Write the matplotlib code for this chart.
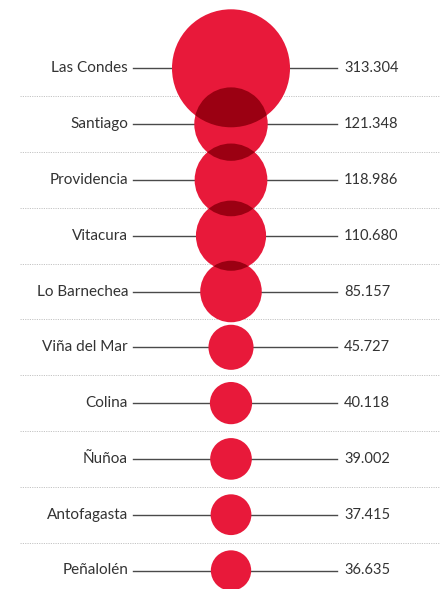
import numpy as np
import matplotlib
matplotlib.use("Agg")
import matplotlib.pyplot as plt
from matplotlib.patches import Circle

comunas = ["Las Condes", "Santiago", "Providencia", "Vitacura", "Lo Barnechea",
           "Viña del Mar", "Colina", "Ñuñoa", "Antofagasta", "Peñalolén"]
valores = [313304, 121348, 118986, 110680, 85157, 45727, 40118, 39002, 37415, 36635]
etiquetas = ["313.304", "121.348", "118.986", "110.680", "85.157",
             "45.727", "40.118", "39.002", "37.415", "36.635"]

rojo = "#e8193a"
rojo_osc = "#9b0012"
gris = "#333333"

fig = plt.figure(figsize=(4.44, 5.89), dpi=100)
ax = fig.add_axes([0, 0, 1, 1])
ax.set_xlim(0, 444)
ax.set_ylim(589, 0)
ax.set_aspect("equal")
ax.axis("off")

cx = 231
y0, paso = 68.3, 55.8
rmax = 59
ys = [y0 + i * paso for i in range(len(valores))]
radios = [rmax * np.sqrt(v / max(valores)) for v in valores]

# separadores punteados
for y in ys[:-1]:
    ax.plot([20, 440], [y + paso / 2, y + paso / 2], color="#c4c4c4", lw=0.7,
            ls=(0, (1.2, 1.2)), zorder=1)

circulos = []
for nombre, etiq, y, r in zip(comunas, etiquetas, ys, radios):
    ax.plot([133, 337], [y, y], color="#4a4a4a", lw=1.0, zorder=2)
    ax.text(128, y, nombre, ha="right", va="center", fontsize=11,
            family="Lato", color=gris)
    ax.text(344, y, etiq, ha="left", va="center", fontsize=10.5,
            family="Lato", color=gris)
    c = Circle((cx, y), r, facecolor=rojo, edgecolor="none", zorder=3)
    ax.add_patch(c)
    circulos.append(c)

# zona de solape más oscura
for i in range(1, len(circulos)):
    prev = circulos[i - 1]
    if ys[i] - ys[i - 1] < radios[i] + radios[i - 1]:
        dark = Circle((cx, ys[i]), radios[i], facecolor=rojo_osc,
                      edgecolor="none", zorder=4)
        ax.add_patch(dark)
        dark.set_clip_path(prev)

fig.savefig("out.png", dpi=100)
